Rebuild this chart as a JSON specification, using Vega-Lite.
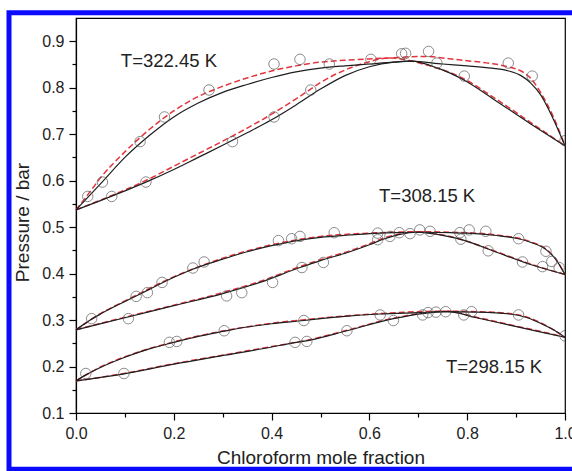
{
  "$schema": "https://vega.github.io/schema/vega-lite/v6.json",
  "width": 489,
  "height": 395,
  "autosize": {"type": "none"},
  "padding": {"left": 76, "top": 18, "right": 7, "bottom": 58},
  "background": "white",
  "config": {
    "font": "Liberation Sans",
    "view": {"stroke": "#000", "strokeWidth": 1.2},
    "axis": {
      "grid": false, "domainColor": "#000", "tickColor": "#000", "labelColor": "#222", "titleColor": "#222",
      "labelFont": "Liberation Sans", "titleFont": "Liberation Sans", "labelFontSize": 16, "titleFontSize": 19,
      "titleFontWeight": "normal", "domainWidth": 1.2, "tickWidth": 1.2, "labelFlush": false, "labelOverlap": false
    }
  },
  "datasets": {
    "curves": [
      {"c":"A1","m":"s","x":0,"y":0.537},{"c":"A1","m":"s","x":0.025,"y":0.565},{"c":"A1","m":"s","x":0.05,"y":0.593},{"c":"A1","m":"s","x":0.1,"y":0.65},{"c":"A1","m":"s","x":0.15,"y":0.697},{"c":"A1","m":"s","x":0.2,"y":0.737},{"c":"A1","m":"s","x":0.25,"y":0.767},{"c":"A1","m":"s","x":0.3,"y":0.79},{"c":"A1","m":"s","x":0.35,"y":0.807},{"c":"A1","m":"s","x":0.4,"y":0.822},{"c":"A1","m":"s","x":0.45,"y":0.834},{"c":"A1","m":"s","x":0.5,"y":0.842},{"c":"A1","m":"s","x":0.55,"y":0.847},{"c":"A1","m":"s","x":0.6,"y":0.851},{"c":"A1","m":"s","x":0.65,"y":0.855},{"c":"A1","m":"s","x":0.685,"y":0.857},{"c":"A1","m":"s","x":0.75,"y":0.851},{"c":"A1","m":"s","x":0.8,"y":0.847},{"c":"A1","m":"s","x":0.85,"y":0.842},{"c":"A1","m":"s","x":0.885,"y":0.836},{"c":"A1","m":"s","x":0.91,"y":0.826},{"c":"A1","m":"s","x":0.93,"y":0.81},{"c":"A1","m":"s","x":0.95,"y":0.785},{"c":"A1","m":"s","x":0.975,"y":0.735},{"c":"A1","m":"s","x":1,"y":0.675},
      {"c":"A2","m":"s","x":0,"y":0.537},{"c":"A2","m":"s","x":0.05,"y":0.557},{"c":"A2","m":"s","x":0.1,"y":0.578},{"c":"A2","m":"s","x":0.15,"y":0.6},{"c":"A2","m":"s","x":0.2,"y":0.624},{"c":"A2","m":"s","x":0.25,"y":0.65},{"c":"A2","m":"s","x":0.3,"y":0.676},{"c":"A2","m":"s","x":0.35,"y":0.703},{"c":"A2","m":"s","x":0.4,"y":0.731},{"c":"A2","m":"s","x":0.45,"y":0.763},{"c":"A2","m":"s","x":0.5,"y":0.797},{"c":"A2","m":"s","x":0.55,"y":0.826},{"c":"A2","m":"s","x":0.6,"y":0.845},{"c":"A2","m":"s","x":0.65,"y":0.855},{"c":"A2","m":"s","x":0.685,"y":0.857},{"c":"A2","m":"s","x":0.74,"y":0.842},{"c":"A2","m":"s","x":0.794,"y":0.816},{"c":"A2","m":"s","x":0.86,"y":0.771},{"c":"A2","m":"s","x":0.93,"y":0.722},{"c":"A2","m":"s","x":1,"y":0.675},
      {"c":"A1","m":"d","x":0,"y":0.537},{"c":"A1","m":"d","x":0.025,"y":0.571},{"c":"A1","m":"d","x":0.05,"y":0.606},{"c":"A1","m":"d","x":0.1,"y":0.662},{"c":"A1","m":"d","x":0.15,"y":0.71},{"c":"A1","m":"d","x":0.2,"y":0.75},{"c":"A1","m":"d","x":0.25,"y":0.781},{"c":"A1","m":"d","x":0.3,"y":0.803},{"c":"A1","m":"d","x":0.35,"y":0.821},{"c":"A1","m":"d","x":0.4,"y":0.836},{"c":"A1","m":"d","x":0.45,"y":0.847},{"c":"A1","m":"d","x":0.5,"y":0.855},{"c":"A1","m":"d","x":0.55,"y":0.859},{"c":"A1","m":"d","x":0.6,"y":0.862},{"c":"A1","m":"d","x":0.64,"y":0.864},{"c":"A1","m":"d","x":0.7,"y":0.867},{"c":"A1","m":"d","x":0.72,"y":0.867},{"c":"A1","m":"d","x":0.75,"y":0.864},{"c":"A1","m":"d","x":0.8,"y":0.858},{"c":"A1","m":"d","x":0.85,"y":0.852},{"c":"A1","m":"d","x":0.884,"y":0.845},{"c":"A1","m":"d","x":0.91,"y":0.836},{"c":"A1","m":"d","x":0.93,"y":0.82},{"c":"A1","m":"d","x":0.95,"y":0.79},{"c":"A1","m":"d","x":0.975,"y":0.74},{"c":"A1","m":"d","x":1,"y":0.675},
      {"c":"A2","m":"d","x":0,"y":0.537},{"c":"A2","m":"d","x":0.05,"y":0.558},{"c":"A2","m":"d","x":0.1,"y":0.58},{"c":"A2","m":"d","x":0.15,"y":0.604},{"c":"A2","m":"d","x":0.2,"y":0.631},{"c":"A2","m":"d","x":0.25,"y":0.658},{"c":"A2","m":"d","x":0.3,"y":0.685},{"c":"A2","m":"d","x":0.35,"y":0.713},{"c":"A2","m":"d","x":0.4,"y":0.743},{"c":"A2","m":"d","x":0.45,"y":0.776},{"c":"A2","m":"d","x":0.48,"y":0.797},{"c":"A2","m":"d","x":0.5,"y":0.811},{"c":"A2","m":"d","x":0.55,"y":0.838},{"c":"A2","m":"d","x":0.6,"y":0.856},{"c":"A2","m":"d","x":0.64,"y":0.864},{"c":"A2","m":"d","x":0.72,"y":0.848},{"c":"A2","m":"d","x":0.79,"y":0.821},{"c":"A2","m":"d","x":0.86,"y":0.775},{"c":"A2","m":"d","x":0.93,"y":0.725},{"c":"A2","m":"d","x":1,"y":0.675},
      {"c":"B1","m":"s","x":0,"y":0.279},{"c":"B1","m":"s","x":0.032,"y":0.302},{"c":"B1","m":"s","x":0.05,"y":0.313},{"c":"B1","m":"s","x":0.1,"y":0.34},{"c":"B1","m":"s","x":0.15,"y":0.366},{"c":"B1","m":"s","x":0.2,"y":0.392},{"c":"B1","m":"s","x":0.24,"y":0.41},{"c":"B1","m":"s","x":0.3,"y":0.431},{"c":"B1","m":"s","x":0.35,"y":0.447},{"c":"B1","m":"s","x":0.4,"y":0.46},{"c":"B1","m":"s","x":0.458,"y":0.472},{"c":"B1","m":"s","x":0.5,"y":0.478},{"c":"B1","m":"s","x":0.56,"y":0.483},{"c":"B1","m":"s","x":0.6,"y":0.486},{"c":"B1","m":"s","x":0.65,"y":0.488},{"c":"B1","m":"s","x":0.7,"y":0.489},{"c":"B1","m":"s","x":0.765,"y":0.488},{"c":"B1","m":"s","x":0.8,"y":0.487},{"c":"B1","m":"s","x":0.86,"y":0.482},{"c":"B1","m":"s","x":0.9,"y":0.476},{"c":"B1","m":"s","x":0.928,"y":0.468},{"c":"B1","m":"s","x":0.962,"y":0.451},{"c":"B1","m":"s","x":0.98,"y":0.432},{"c":"B1","m":"s","x":1,"y":0.398},
      {"c":"B2","m":"s","x":0,"y":0.279},{"c":"B2","m":"s","x":0.1,"y":0.305},{"c":"B2","m":"s","x":0.2,"y":0.331},{"c":"B2","m":"s","x":0.3,"y":0.357},{"c":"B2","m":"s","x":0.376,"y":0.381},{"c":"B2","m":"s","x":0.458,"y":0.413},{"c":"B2","m":"s","x":0.5,"y":0.428},{"c":"B2","m":"s","x":0.56,"y":0.447},{"c":"B2","m":"s","x":0.6,"y":0.462},{"c":"B2","m":"s","x":0.628,"y":0.474},{"c":"B2","m":"s","x":0.66,"y":0.484},{"c":"B2","m":"s","x":0.7,"y":0.489},{"c":"B2","m":"s","x":0.72,"y":0.487},{"c":"B2","m":"s","x":0.76,"y":0.48},{"c":"B2","m":"s","x":0.792,"y":0.472},{"c":"B2","m":"s","x":0.86,"y":0.446},{"c":"B2","m":"s","x":0.928,"y":0.42},{"c":"B2","m":"s","x":1,"y":0.398},
      {"c":"B1","m":"d","x":0,"y":0.279},{"c":"B1","m":"d","x":0.05,"y":0.314},{"c":"B1","m":"d","x":0.1,"y":0.341},{"c":"B1","m":"d","x":0.2,"y":0.393},{"c":"B1","m":"d","x":0.3,"y":0.433},{"c":"B1","m":"d","x":0.4,"y":0.462},{"c":"B1","m":"d","x":0.5,"y":0.48},{"c":"B1","m":"d","x":0.6,"y":0.487},{"c":"B1","m":"d","x":0.7,"y":0.49},{"c":"B1","m":"d","x":0.8,"y":0.488},{"c":"B1","m":"d","x":0.86,"y":0.483},{"c":"B1","m":"d","x":0.928,"y":0.469},{"c":"B1","m":"d","x":0.962,"y":0.452},{"c":"B1","m":"d","x":0.98,"y":0.433},{"c":"B1","m":"d","x":1,"y":0.398},
      {"c":"B2","m":"d","x":0,"y":0.279},{"c":"B2","m":"d","x":0.1,"y":0.306},{"c":"B2","m":"d","x":0.2,"y":0.332},{"c":"B2","m":"d","x":0.3,"y":0.359},{"c":"B2","m":"d","x":0.376,"y":0.383},{"c":"B2","m":"d","x":0.458,"y":0.415},{"c":"B2","m":"d","x":0.5,"y":0.43},{"c":"B2","m":"d","x":0.56,"y":0.449},{"c":"B2","m":"d","x":0.6,"y":0.464},{"c":"B2","m":"d","x":0.628,"y":0.476},{"c":"B2","m":"d","x":0.66,"y":0.485},{"c":"B2","m":"d","x":0.7,"y":0.49},{"c":"B2","m":"d","x":0.76,"y":0.481},{"c":"B2","m":"d","x":0.86,"y":0.447},{"c":"B2","m":"d","x":0.928,"y":0.421},{"c":"B2","m":"d","x":1,"y":0.398},
      {"c":"C1","m":"s","x":0,"y":0.169},{"c":"C1","m":"s","x":0.02,"y":0.182},{"c":"C1","m":"s","x":0.05,"y":0.198},{"c":"C1","m":"s","x":0.1,"y":0.22},{"c":"C1","m":"s","x":0.15,"y":0.238},{"c":"C1","m":"s","x":0.2,"y":0.252},{"c":"C1","m":"s","x":0.25,"y":0.265},{"c":"C1","m":"s","x":0.303,"y":0.276},{"c":"C1","m":"s","x":0.35,"y":0.285},{"c":"C1","m":"s","x":0.4,"y":0.292},{"c":"C1","m":"s","x":0.466,"y":0.299},{"c":"C1","m":"s","x":0.5,"y":0.303},{"c":"C1","m":"s","x":0.55,"y":0.308},{"c":"C1","m":"s","x":0.622,"y":0.313},{"c":"C1","m":"s","x":0.7,"y":0.316},{"c":"C1","m":"s","x":0.751,"y":0.318},{"c":"C1","m":"s","x":0.819,"y":0.317},{"c":"C1","m":"s","x":0.887,"y":0.313},{"c":"C1","m":"s","x":0.92,"y":0.306},{"c":"C1","m":"s","x":0.956,"y":0.29},{"c":"C1","m":"s","x":0.98,"y":0.277},{"c":"C1","m":"s","x":1,"y":0.263},
      {"c":"C2","m":"s","x":0,"y":0.169},{"c":"C2","m":"s","x":0.098,"y":0.184},{"c":"C2","m":"s","x":0.2,"y":0.205},{"c":"C2","m":"s","x":0.308,"y":0.225},{"c":"C2","m":"s","x":0.4,"y":0.242},{"c":"C2","m":"s","x":0.444,"y":0.251},{"c":"C2","m":"s","x":0.479,"y":0.257},{"c":"C2","m":"s","x":0.554,"y":0.277},{"c":"C2","m":"s","x":0.649,"y":0.303},{"c":"C2","m":"s","x":0.717,"y":0.315},{"c":"C2","m":"s","x":0.76,"y":0.318},{"c":"C2","m":"s","x":0.819,"y":0.305},{"c":"C2","m":"s","x":0.887,"y":0.289},{"c":"C2","m":"s","x":0.956,"y":0.273},{"c":"C2","m":"s","x":1,"y":0.263},
      {"c":"C1","m":"d","x":0,"y":0.169},{"c":"C1","m":"d","x":0.05,"y":0.199},{"c":"C1","m":"d","x":0.1,"y":0.221},{"c":"C1","m":"d","x":0.2,"y":0.253},{"c":"C1","m":"d","x":0.303,"y":0.277},{"c":"C1","m":"d","x":0.4,"y":0.293},{"c":"C1","m":"d","x":0.5,"y":0.304},{"c":"C1","m":"d","x":0.622,"y":0.314},{"c":"C1","m":"d","x":0.751,"y":0.319},{"c":"C1","m":"d","x":0.819,"y":0.318},{"c":"C1","m":"d","x":0.887,"y":0.314},{"c":"C1","m":"d","x":0.92,"y":0.307},{"c":"C1","m":"d","x":0.956,"y":0.291},{"c":"C1","m":"d","x":1,"y":0.263},
      {"c":"C2","m":"d","x":0,"y":0.169},{"c":"C2","m":"d","x":0.098,"y":0.185},{"c":"C2","m":"d","x":0.2,"y":0.206},{"c":"C2","m":"d","x":0.308,"y":0.226},{"c":"C2","m":"d","x":0.4,"y":0.243},{"c":"C2","m":"d","x":0.479,"y":0.258},{"c":"C2","m":"d","x":0.554,"y":0.278},{"c":"C2","m":"d","x":0.649,"y":0.304},{"c":"C2","m":"d","x":0.717,"y":0.316},{"c":"C2","m":"d","x":0.76,"y":0.319},{"c":"C2","m":"d","x":0.819,"y":0.306},{"c":"C2","m":"d","x":0.887,"y":0.29},{"c":"C2","m":"d","x":0.956,"y":0.274},{"c":"C2","m":"d","x":1,"y":0.263}
    ],
    "pts": [
      {"x":0.024,"y":0.566},{"x":0.054,"y":0.597},{"x":0.131,"y":0.684},{"x":0.181,"y":0.737},{"x":0.272,"y":0.795},{"x":0.405,"y":0.851},{"x":0.458,"y":0.861},{"x":0.518,"y":0.851},{"x":0.603,"y":0.861},{"x":0.666,"y":0.873},{"x":0.674,"y":0.874},{"x":0.721,"y":0.878},{"x":0.738,"y":0.853},{"x":0.794,"y":0.825},{"x":0.884,"y":0.853},{"x":0.933,"y":0.825},{"x":1.0,"y":0.686},
      {"x":0.073,"y":0.566},{"x":0.143,"y":0.597},{"x":0.32,"y":0.684},{"x":0.405,"y":0.737},{"x":0.48,"y":0.795},
      {"x":0.032,"y":0.303},{"x":0.107,"y":0.303},{"x":0.123,"y":0.351},{"x":0.146,"y":0.359},{"x":0.176,"y":0.381},{"x":0.239,"y":0.412},{"x":0.262,"y":0.425},{"x":0.308,"y":0.352},{"x":0.339,"y":0.359},{"x":0.402,"y":0.381},{"x":0.414,"y":0.471},{"x":0.441,"y":0.475},{"x":0.458,"y":0.48},{"x":0.462,"y":0.413},{"x":0.506,"y":0.424},{"x":0.528,"y":0.488},{"x":0.617,"y":0.487},{"x":0.617,"y":0.473},{"x":0.642,"y":0.48},{"x":0.661,"y":0.488},{"x":0.683,"y":0.486},{"x":0.703,"y":0.494},{"x":0.724,"y":0.491},{"x":0.785,"y":0.488},{"x":0.787,"y":0.474},{"x":0.804,"y":0.494},{"x":0.838,"y":0.491},{"x":0.843,"y":0.449},{"x":0.905,"y":0.475},{"x":0.913,"y":0.425},{"x":0.954,"y":0.415},{"x":0.961,"y":0.448},{"x":0.973,"y":0.426},{"x":0.988,"y":0.413},
      {"x":0.02,"y":0.185},{"x":0.098,"y":0.185},{"x":0.191,"y":0.252},{"x":0.206,"y":0.254},{"x":0.303,"y":0.277},{"x":0.448,"y":0.252},{"x":0.472,"y":0.254},{"x":0.466,"y":0.299},{"x":0.554,"y":0.277},{"x":0.622,"y":0.311},{"x":0.649,"y":0.299},{"x":0.709,"y":0.311},{"x":0.72,"y":0.316},{"x":0.736,"y":0.317},{"x":0.756,"y":0.318},{"x":0.793,"y":0.311},{"x":0.809,"y":0.318},{"x":0.905,"y":0.311},{"x":1.0,"y":0.266}
    ],
    "labels": [
      {"x":0.19,"y":0.858,"t":"T=322.45 K"},
      {"x":0.718,"y":0.567,"t":"T=308.15 K"},
      {"x":0.855,"y":0.2,"t":"T=298.15 K"}
    ]
  },
  "layer": [
    {
      "data": {"name": "curves"},
      "transform": [{"filter": "datum.m === 'd'"}],
      "mark": {"type": "line", "color": "#e3343c", "strokeWidth": 1.5, "strokeDash": [6, 3], "interpolate": "monotone"},
      "encoding": {
        "x": {"field": "x", "type": "quantitative", "scale": {"domain": [0, 1], "nice": false, "zero": false},
          "axis": {"orient": "bottom", "values": [0, 0.2, 0.4, 0.6, 0.8, 1.0], "format": ".1f", "tickSize": 7, "labelPadding": 5, "title": "Chloroform mole fraction", "titleY": 35}},
        "y": {"field": "y", "type": "quantitative", "scale": {"domain": [0.1, 0.95], "nice": false, "zero": false},
          "axis": {"orient": "left", "values": [0.1, 0.2, 0.3, 0.4, 0.5, 0.6, 0.7, 0.8, 0.9], "format": ".1f", "tickSize": 7, "labelPadding": 5, "title": "Pressure / bar", "titleX": -44, "titleY": 204}},
        "detail": {"field": "c"}
      }
    },
    {
      "data": {"name": "curves"},
      "transform": [{"filter": "datum.m === 's'"}],
      "mark": {"type": "line", "color": "#1e1e1e", "strokeWidth": 1.2, "interpolate": "monotone"},
      "encoding": {
        "x": {"field": "x", "type": "quantitative", "axis": null},
        "y": {"field": "y", "type": "quantitative", "axis": null},
        "detail": {"field": "c"}
      }
    },
    {
      "data": {"name": "pts"},
      "mark": {"type": "point", "shape": "circle", "filled": false, "stroke": "#5a5a5a", "strokeWidth": 1, "size": 110, "clip": true},
      "encoding": {
        "x": {"field": "x", "type": "quantitative",
          "axis": {"orient": "bottom", "values": [0.1, 0.3, 0.5, 0.7, 0.9], "tickSize": 4, "labels": false, "domain": false, "title": null}},
        "y": {"field": "y", "type": "quantitative",
          "axis": {"orient": "left", "values": [0.15, 0.25, 0.35, 0.45, 0.55, 0.65, 0.75, 0.85], "tickSize": 4, "labels": false, "domain": false, "title": null}}
      }
    },
    {
      "data": {"name": "labels"},
      "mark": {"type": "text", "fontSize": 18.5, "color": "#222", "align": "center", "baseline": "middle", "font": "Liberation Sans"},
      "encoding": {
        "x": {"field": "x", "type": "quantitative", "axis": null},
        "y": {"field": "y", "type": "quantitative", "axis": null},
        "text": {"field": "t"}
      }
    },
    {
      "data": {"values": [{}]},
      "mark": {"type": "rect", "fill": null, "stroke": "#0a0aff", "strokeWidth": 5, "clip": false},
      "encoding": {
        "x": {"datum": -0.137, "type": "quantitative", "axis": null},
        "x2": {"datum": 1.031},
        "y": {"datum": 0.9615, "type": "quantitative", "axis": null},
        "y2": {"datum": -0.021}
      }
    }
  ],
  "resolve": {"axis": {"x": "independent", "y": "independent"}}
}
